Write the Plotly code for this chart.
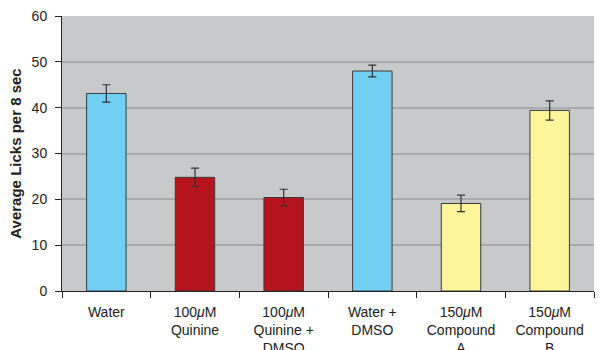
import plotly.graph_objects as go

categories = ["Water", "100<i>μ</i>M<br>Quinine", "100<i>μ</i>M<br>Quinine +<br>DMSO",
              "Water +<br>DMSO", "150<i>μ</i>M<br>Compound<br>A", "150<i>μ</i>M<br>Compound<br>B"]
values = [43.1, 24.8, 20.4, 48.0, 19.1, 39.4]
errors = [1.9, 2.0, 1.8, 1.3, 1.8, 2.1]
colors = ["#72CFF4", "#B5141C", "#B5141C", "#72CFF4", "#FEF59A", "#FEF59A"]
y_ticks = [0, 10, 20, 30, 40, 50, 60]

font_family = "Liberation Sans, Arial, sans-serif"

fig = go.Figure(go.Bar(
    x=categories, y=values,
    marker=dict(color=colors, line=dict(color="#3a3a3a", width=1)),
    error_y=dict(type="data", array=errors, color="#333333", thickness=1.2, width=4),
))

fig.update_layout(
    width=608, height=350,
    margin=dict(l=62, r=14, t=16, b=59),
    paper_bgcolor="white",
    plot_bgcolor="#C8C9CB",
    bargap=0.555,
    showlegend=False,
    font=dict(family=font_family, size=14, color="#222222"),
)
fig.update_xaxes(
    showline=True, linecolor="#222222", linewidth=1,
    ticks="outside", ticklen=6, tickcolor="#222222", tickson="boundaries",
    ticklabelstandoff=8,
    showgrid=False, automargin=False, tickangle=0,
    tickfont=dict(size=14, family=font_family),
)
fig.update_yaxes(
    range=[0, 60], tickvals=y_ticks,
    showline=True, linecolor="#222222", linewidth=1,
    ticks="outside", ticklen=6, tickcolor="#222222",
    ticklabelstandoff=5,
    showgrid=True, gridcolor="#A9AAAC", gridwidth=1.5,
    zeroline=False, automargin=False,
    tickfont=dict(size=14, family=font_family),
    title=dict(text="<b>Average Licks per 8 sec</b>", font=dict(size=15, family=font_family), standoff=6),
)

fig.write_html("out.html", config={"displayModeBar": False},
               post_script="document.body.style.margin='0';document.body.style.padding='0';")
